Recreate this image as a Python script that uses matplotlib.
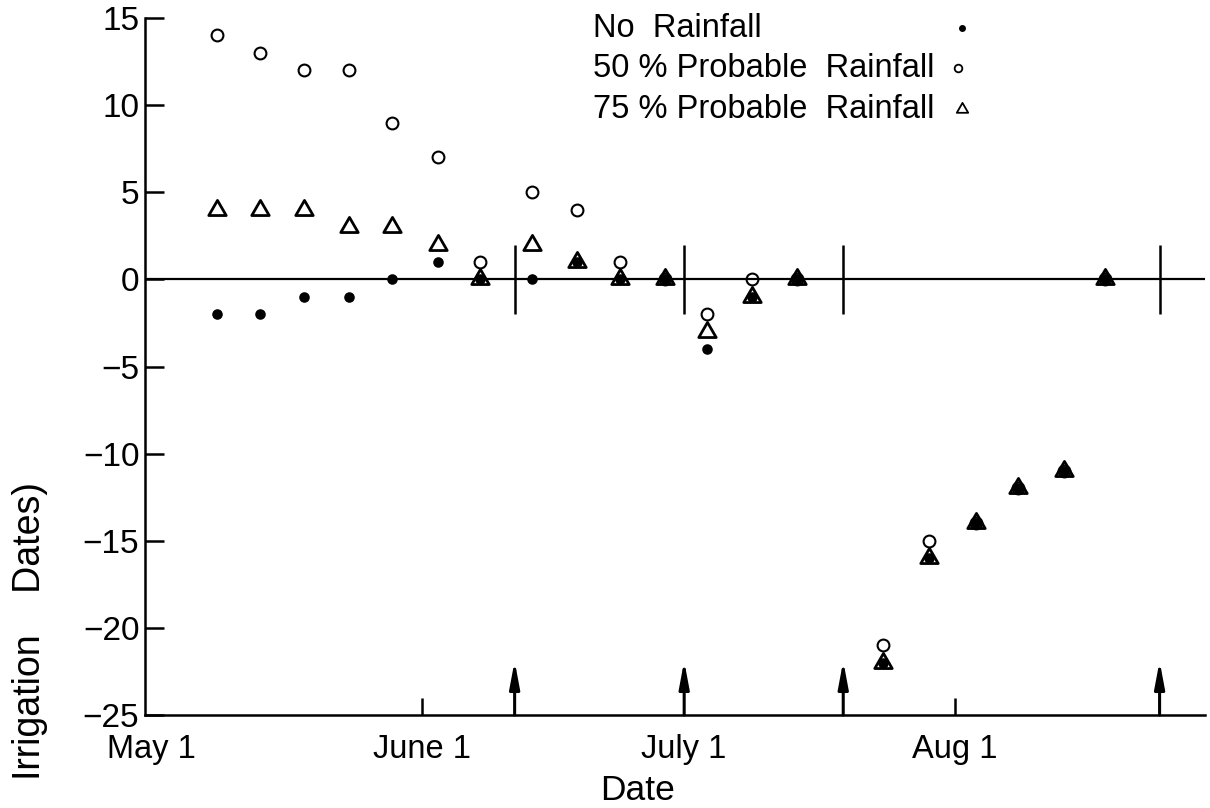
import matplotlib.pyplot as plt
import numpy as np
from matplotlib.path import Path

plt.rcParams['font.family'] = ['Liberation Sans', 'DejaVu Sans']
plt.rcParams['axes.unicode_minus'] = True

# days counted from May 1
days = [7.5, 12.5, 17.5, 22.7, 27.6, 32.8, 37.6, 43.6, 48.7, 53.7,
        58.8, 63.6, 68.8, 73.9, 83.8, 89.0, 94.4, 99.2, 104.5, 109.2]
no_rain = [-2, -2, -1, -1, 0, 1, 0, 0, 1, 0,
           0, -4, -1, 0, -22, -16, -14, -12, -11, 0]
rain_50 = [14, 13, 12, 12, 9, 7, 1, 5, 4, 1,
           0, -2, 0, 0, -21, -15, -14, -12, -11, 0]
rain_75 = [4, 4, 4, 3, 3, 2, 0, 2, 1, 0,
           0, -3, -1, 0, -22, -16, -14, -12, -11, 0]

irrigation_days = [41.6, 61.0, 79.2, 115.4]
month_days = [0, 31, 61, 92]
month_labels = ['May 1', 'June 1', 'July 1', 'Aug 1']
minor_marks = [31, 92]
yticks = [15, 10, 5, 0, -5, -10, -15, -20, -25]
legend_labels = ['No  Rainfall', '50 % Probable  Rainfall', '75 % Probable  Rainfall']

# equilateral triangle centred on its centroid
tri = Path([(-1, -0.577), (1, -0.577), (0, 1.155), (-1, -0.577)],
           [Path.MOVETO, Path.LINETO, Path.LINETO, Path.CLOSEPOLY])

fig = plt.figure(figsize=(12.1, 8.08), dpi=100)
ax = fig.add_axes([0.1198, 0.1151, 0.8761, 0.8626])

ax.axhline(0, color='black', lw=1.6, zorder=1)
ax.vlines(irrigation_days, -2, 2, color='black', lw=1.8, zorder=1)
ax.vlines(minor_marks, -25, -24, color='black', lw=1.8)
for d in irrigation_days:
    ax.annotate('', xy=(d, -21.9), xytext=(d, -25),
                arrowprops=dict(arrowstyle='-|>,head_length=0.8,head_width=0.15',
                                mutation_scale=20, color='black', lw=2.2,
                                shrinkA=0, shrinkB=0))

ax.plot(days, rain_75, ls='none', marker=tri, ms=14.5, mfc='none', mec='black', mew=2.0, zorder=3)
ax.plot(days, rain_50, ls='none', marker='o', ms=8.5, mfc='none', mec='black', mew=1.5, zorder=4)
ax.plot(days, no_rain, ls='none', marker='o', ms=7.6, mfc='black', mec='black', mew=0, zorder=5)

ax.set_xlim(-0.7, 120.6)
ax.set_ylim(-25, 15)
ax.set_yticks(yticks)
ax.set_yticklabels([f'{v}'.replace('-', '\u2212') for v in yticks], fontsize=24)
ax.tick_params(axis='y', direction='in', length=13.5, width=1.8, pad=4)
ax.set_xticks(month_days)
ax.set_xticklabels(month_labels, fontsize=23.5)
ax.tick_params(axis='x', length=0, pad=14)
for s in ['top', 'right']:
    ax.spines[s].set_visible(False)
for s in ['left', 'bottom']:
    ax.spines[s].set_linewidth(1.8)

ax.text(0.465, -0.108, 'Date', transform=ax.transAxes, ha='center', va='center', fontsize=25.5)
fig.text(0.025, 1 - 482 / 808, 'Irrigation    Dates)', rotation=90, ha='center', va='top', fontsize=27)

# legend: text on the left, symbol on the right
leg_y = [0.9855, 0.9281, 0.8693]
for lab, yy in zip(legend_labels, leg_y):
    ax.text(0.4226, yy, lab, transform=ax.transAxes, ha='left', va='center', fontsize=23.5)
ax.plot([0.7708], [leg_y[0]], transform=ax.transAxes, clip_on=False, ls='none',
        marker='o', ms=5, mfc='black', mew=0)
ax.plot([0.7670], [leg_y[1]], transform=ax.transAxes, clip_on=False, ls='none',
        marker='o', ms=5.5, mfc='none', mec='black', mew=1.3)
ax.plot([0.7708], [leg_y[2]], transform=ax.transAxes, clip_on=False, ls='none',
        marker=tri, ms=9.5, mfc='none', mec='black', mew=1.3)

fig.savefig('out.png', dpi=100)
